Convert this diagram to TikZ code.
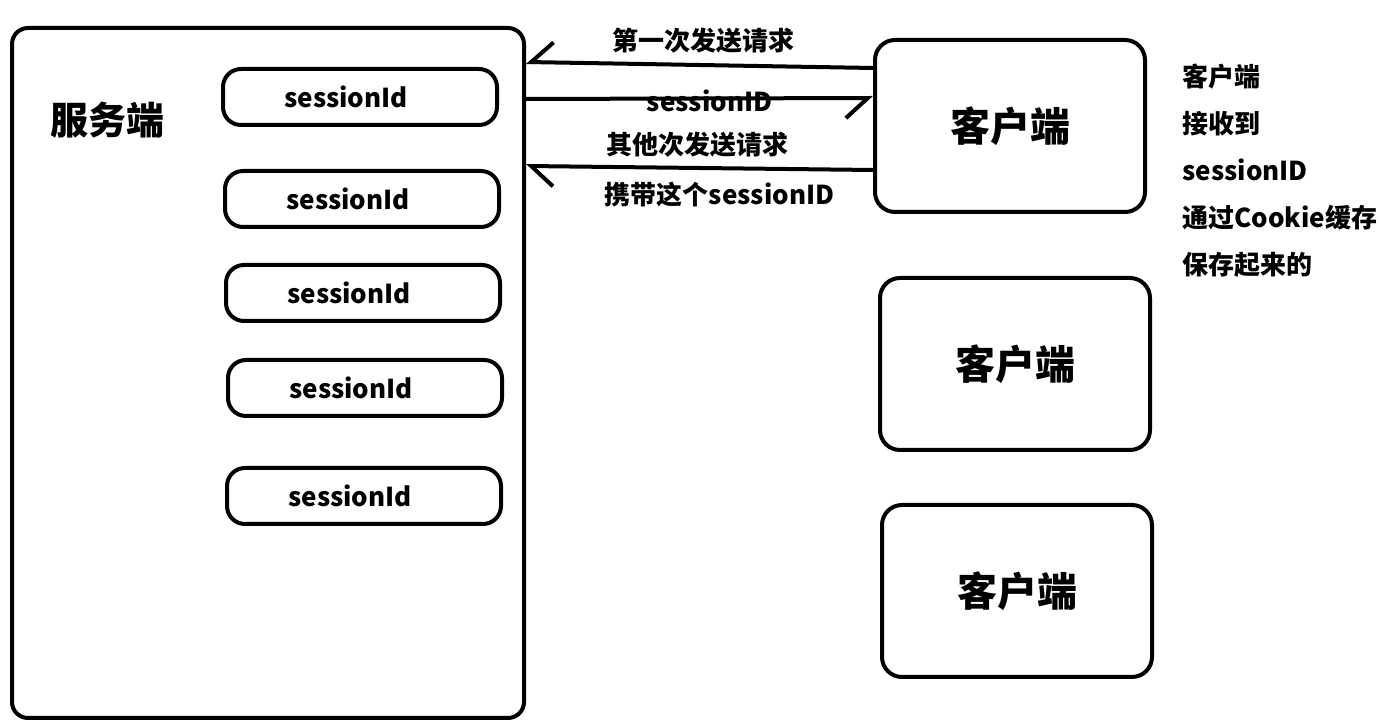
\documentclass[tikz,border=0pt]{standalone}
\usepackage{fontspec}
\setmainfont{Noto Sans CJK SC}
\usetikzlibrary{arrows.meta}

\begin{document}
\begin{tikzpicture}[x=0.5pt, y=-0.5pt]

\tikzstyle{server}=[rectangle, minimum width = 256pt, minimum height = 345pt, rounded corners=8pt, line width=2pt, draw =black]
\tikzstyle{session}=[rectangle, minimum width = 137pt, minimum height = 28pt, rounded corners=9pt, line width=2pt, draw =black, font=\fontsize{13pt}{15pt}\selectfont\bfseries]
\tikzstyle{client}=[rectangle, minimum width = 135pt, minimum height = 86pt, rounded corners=10pt, line width=2pt, draw =black, font=\fontsize{20pt}{22pt}\selectfont\bfseries]
\tikzstyle{label}=[font=\fontsize{13pt}{15pt}\selectfont\bfseries, inner sep=0pt]

\tikzstyle{connect}=[line width=2pt, -{Straight Barb[harpoon, length=11pt, width=20pt, line width=2pt]}]
\tikzstyle{connectswap}=[line width=2pt, -{Straight Barb[harpoon, swap, length=11pt, width=20pt, line width=2pt]}]

\useasboundingbox (0,0) rectangle (1394,726);

\node[server] (server) at (268,373)  {};
\node[font=\fontsize{19pt}{21pt}\selectfont\bfseries] (servername) at (107,120)  {服务端};

\node[session] (s1) at (360,97)  {\hspace*{-14pt}sessionId};
\node[session] (s2) at (362,199)  {\hspace*{-14pt}sessionId};
\node[session] (s3) at (363,293)  {\hspace*{-14pt}sessionId};
\node[session] (s4) at (365,388)  {\hspace*{-14pt}sessionId};
\node[session] (s5) at (364,496)  {\hspace*{-14pt}sessionId};

\node[client] (c1) at (1010,126)  {客户端};
\node[client] (c2) at (1015,364)  {客户端};
\node[client] (c3) at (1017,591)  {客户端};

\node[label, anchor=west, align=left, font=\fontsize{13pt}{23.5pt}\selectfont\bfseries] (note) at (1182,171)
  {客户端\\接收到\\sessionID\\通过Cookie缓存\\保存起来的};

\path ([yshift=29pt]c1.west) [connectswap]  edge node[label, above=5pt, xshift=2pt] {第一次发送请求} ([yshift=155.5pt]server.east);
\path ([yshift=137pt]server.east) [connectswap]  edge node[label, yshift=-1pt, xshift=5pt] {sessionID} ([yshift=14pt]c1.west);
\path ([yshift=-22pt]c1.west) [connect]  edge node[label, above=4.5pt, xshift=-1pt] {其他次发送请求}
                                                 node[label, below=6pt, xshift=10pt] {携带这个sessionID} ([yshift=103.5pt]server.east);

\end{tikzpicture}
\end{document}
